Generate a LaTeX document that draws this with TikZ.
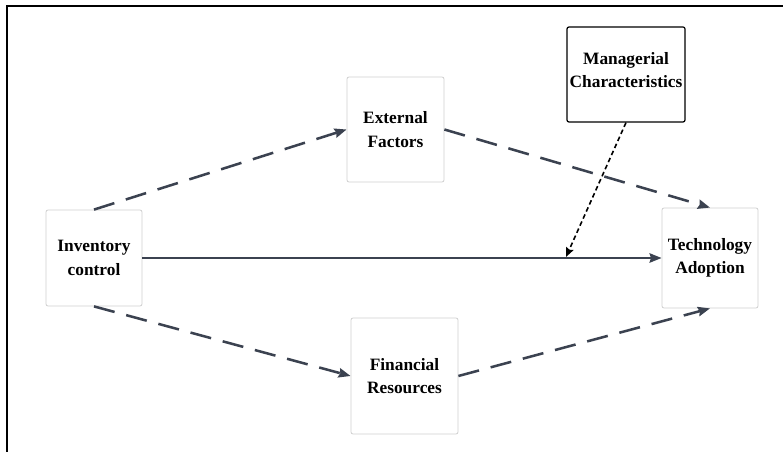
\documentclass[tikz,border=0pt]{standalone}
\usepackage{fontspec}
\setmainfont{Liberation Serif}
\usepackage{tikz}
\usetikzlibrary{arrows.meta}
\definecolor{linegray}{HTML}{3B4250}
\definecolor{boxgray}{HTML}{CFCFCF}
\tikzset{factor/.style={draw=boxgray,line width=0.6pt,rounded corners=1.5pt,fill=white,align=center,font=\fontsize{13}{17.5}\selectfont\bfseries,inner sep=0pt}}
\tikzset{moderator/.style={factor,draw=black,line width=0.9pt}}
\tikzset{path link/.style={draw=linegray,line width=1.9pt,dash pattern=on 16pt off 9pt,-{Stealth[length=9pt,width=7pt,inset=1pt]}}}
\tikzset{direct link/.style={draw=linegray,line width=1.7pt,-{Stealth[length=9pt,width=7pt,inset=1pt]}}}
\tikzset{mod link/.style={draw=black,line width=1.2pt,dash pattern=on 3.5pt off 2.3pt,-{Stealth[length=7pt,width=6pt,inset=1pt]}}}

\begin{document}
\begin{tikzpicture}[x=0.75pt,y=-0.75pt]
          \useasboundingbox (0,0) rectangle (783,452);
          \draw[line width=1.5pt] (7,460) -- (7,6) -- (790,6);
          \node[factor,minimum width=72pt,minimum height=72pt] (inv) at (94,258) {Inventory\\control};
          \node[factor,minimum width=72.75pt,minimum height=78.75pt] (ext) at (395.5,129.5) {External\\Factors};
          \node[factor,minimum width=80.25pt,minimum height=87pt] (fin) at (404.5,376) {Financial\\Resources};
          \node[factor,minimum width=72pt,minimum height=75pt] (tech) at (710,258) {Technology\\Adoption};
          \node[moderator,minimum width=88.5pt,minimum height=71.25pt,text depth=7pt] (man) at (626,74.5) {Managerial\\Characteristics};
          \coordinate (hit) at (566,257);
          \draw[path link] (inv.north) -- (ext.west);
          \draw[path link] (ext.east) -- (tech.north);
          \draw[path link] (inv.south) -- (fin.west);
          \draw[path link] (fin.east) -- (tech.south);
          \draw[direct link] (inv.east) -- (tech.west);
          \draw[mod link] (man.south) -- (hit);
        \end{tikzpicture}
\end{document}
